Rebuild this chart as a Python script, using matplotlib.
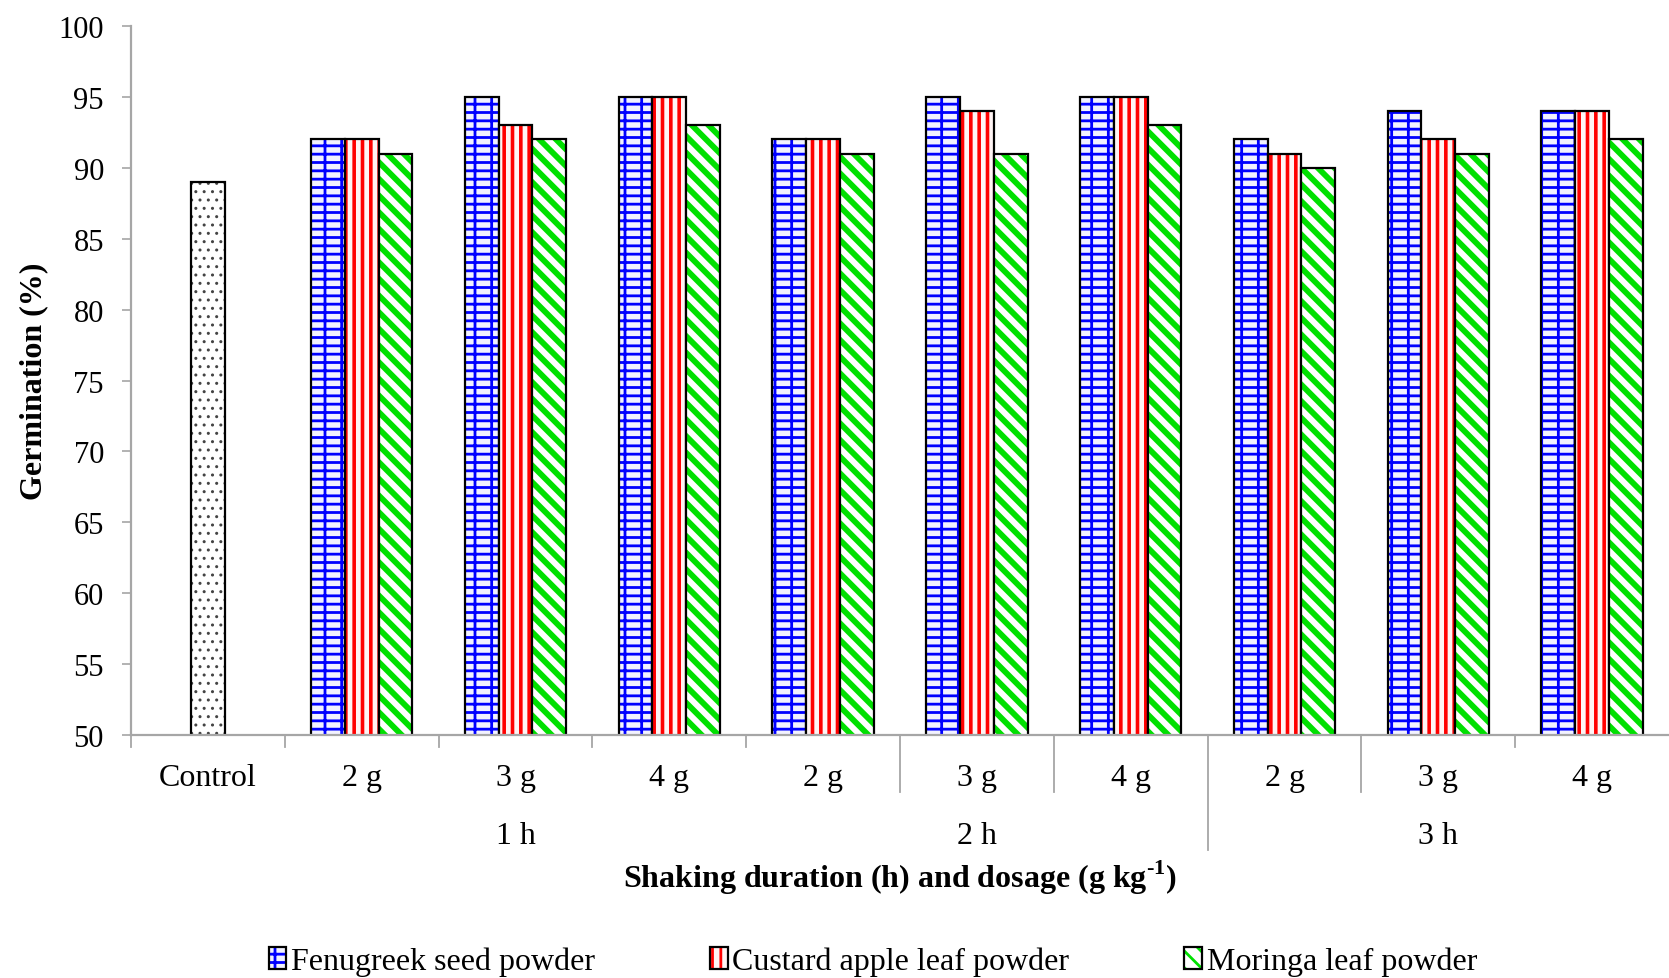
"""
Germination of seed after shaking with plant powders
=====================================================
Grouped bar chart: control vs. three powders at 2/3/4 g kg-1,
for 1 h, 2 h and 3 h shaking duration.
"""

import numpy as np
import matplotlib.pyplot as plt
from matplotlib.patches import Patch


# ─────────────────────────────────────────────
#  Data
# ─────────────────────────────────────────────

durations = ["1 h", "2 h", "3 h"]
doses     = ["2 g", "3 g", "4 g"]
control_label = "Control"
control_germination = 89

series_names = ["Fenugreek seed powder", "Custard apple leaf powder", "Moringa leaf powder"]
fenugreek     = [92, 95, 95, 92, 95, 95, 92, 94, 94]
custard_apple = [92, 93, 95, 92, 94, 95, 91, 92, 94]
moringa       = [91, 92, 93, 91, 91, 93, 90, 91, 92]

y_ticks = list(range(50, 101, 5))


# ─────────────────────────────────────────────
#  Style
# ─────────────────────────────────────────────

plt.rcParams["font.family"] = ["Liberation Serif", "DejaVu Serif"]
plt.rcParams["mathtext.fontset"] = "custom"
plt.rcParams["mathtext.rm"] = "Liberation Serif:bold"
plt.rcParams["mathtext.bf"] = "Liberation Serif:bold"
plt.rcParams["hatch.linewidth"] = 2.0

AXIS_GREY = "#A6A6A6"
BAR_W     = 0.22
FS        = 23

# (hatch, hatch colour, face colour, hatch linewidth)
styles = [
    ("--|",  "#0000FF", "#F2F2FF", 2.0),
    ("||",   "#FF0000", "#FFF4F4", 2.6),
    ("\\\\", "#00E000", "#FFFFFF", 4.2),
]
control_style = ("..", "#444444", "#FFFFFF", 1.0)


def hatched_bar(ax, x, h, style):
    """Hatched fill first, then a black outline on top."""
    hatch, hcol, face, hlw = style
    fill = ax.bar(x, h, BAR_W, color=face, edgecolor=hcol, hatch=hatch, linewidth=0)
    for p in fill:
        if hasattr(p, "set_hatch_linewidth"):
            p.set_hatch_linewidth(hlw)
    ax.bar(x, h, BAR_W, fill=False, edgecolor="black", linewidth=1.6)


def legend_handle(style):
    hatch, hcol, face, hlw = style
    inner = Patch(facecolor=face, edgecolor=hcol, hatch=hatch, linewidth=0)
    if hasattr(inner, "set_hatch_linewidth"):
        inner.set_hatch_linewidth(1.5)
    outer = Patch(fill=False, edgecolor="black", linewidth=1.6)
    return (inner, outer)


# ─────────────────────────────────────────────
#  Figure
# ─────────────────────────────────────────────

fig = plt.figure(figsize=(16.69, 9.79), dpi=100)
ax = fig.add_axes([0.0785, 0.248, 0.9215, 0.7246])

x_treat = np.arange(1, len(fenugreek) + 1)

hatched_bar(ax, [0], [control_germination], control_style)
for i, vals in enumerate([fenugreek, custard_apple, moringa]):
    hatched_bar(ax, x_treat + (i - 1) * BAR_W, vals, styles[i])

ax.set_xlim(-0.5, len(fenugreek) + 0.5)
ax.set_ylim(y_ticks[0], y_ticks[-1])
ax.set_yticks(y_ticks)
ax.set_xticks([])

for side in ["top", "right"]:
    ax.spines[side].set_visible(False)
for side in ["left", "bottom"]:
    ax.spines[side].set_color(AXIS_GREY)
    ax.spines[side].set_linewidth(1.6)
ax.tick_params(axis="y", colors=AXIS_GREY, length=6.5, width=1.2, pad=13,
               labelsize=22, labelcolor="black")

ax.set_ylabel("Germination (%)", fontsize=FS, fontweight="bold", labelpad=7)

# ── Two-level category axis ───────────────
trans = ax.get_xaxis_transform()
ax.text(0, -0.060, control_label, transform=trans, ha="center", va="center", fontsize=FS)
for k, x in enumerate(x_treat):
    ax.text(x, -0.060, doses[k % len(doses)], transform=trans,
            ha="center", va="center", fontsize=FS)
for g, name in enumerate(durations):
    xc = x_treat[g * len(doses): (g + 1) * len(doses)].mean()
    ax.text(xc, -0.142, name, transform=trans, ha="center", va="center", fontsize=FS)

# separator lines between categories (depth in axes fraction)
SHORT, MID, LONG = -0.016, -0.080, -0.162
sep_depth = [SHORT, SHORT, SHORT, SHORT, SHORT, MID, MID, LONG, MID, SHORT]
for k, depth in enumerate(sep_depth):
    ax.plot([k - 0.5, k - 0.5], [0, depth], transform=trans, color=AXIS_GREY,
            linewidth=1.3, clip_on=False)

ax.text(0.5, -0.199, r"Shaking duration (h) and dosage (g kg$^{\text{-}1}$)",
        transform=ax.transAxes, ha="center", va="center",
        fontsize=FS, fontweight="bold")

# ── Legend ────────────────────────────────
fig.legend([legend_handle(s) for s in styles], series_names,
           loc="center", bbox_to_anchor=(0.523, 0.017), ncol=3, frameon=False,
           fontsize=FS, handlelength=0.55, handleheight=0.65, handletextpad=0.15,
           columnspacing=3.6, borderaxespad=0)

fig.savefig("out.png", dpi=100)
plt.close(fig)
